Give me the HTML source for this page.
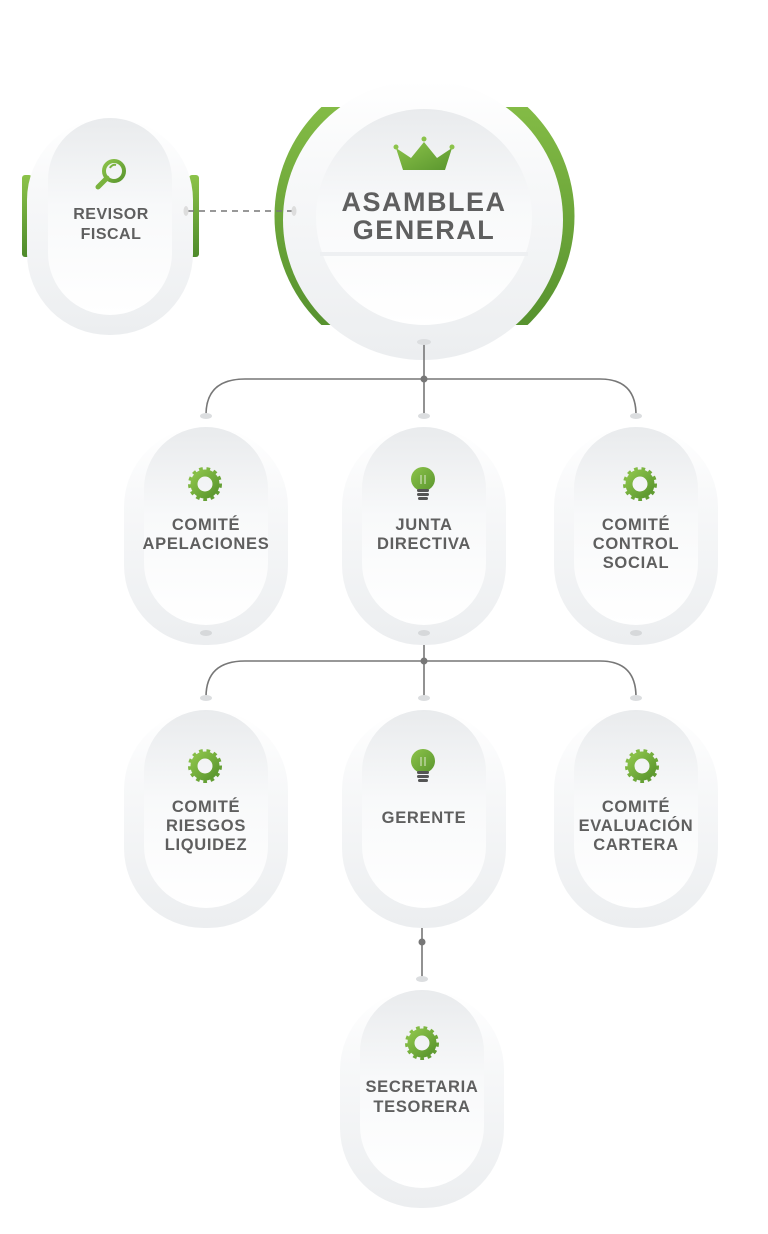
<!DOCTYPE html>
<html><head><meta charset="utf-8"><style>
html,body{margin:0;padding:0;background:#fff;}
svg{display:block}
text{font-family:"Liberation Sans",Arial,sans-serif;font-weight:bold;fill:#5f5f5f;text-anchor:middle;}
</style></head><body>
<svg width="768" height="1234" viewBox="0 0 768 1234" xmlns="http://www.w3.org/2000/svg">
<defs>
<linearGradient id="outer" x1="0" y1="0" x2="0" y2="1">
<stop offset="0" stop-color="#ffffff"/><stop offset="0.35" stop-color="#f7f8f9"/><stop offset="1" stop-color="#eceef0"/></linearGradient>
<linearGradient id="inner" x1="0" y1="0" x2="0" y2="1">
<stop offset="0" stop-color="#e9ebed"/><stop offset="0.45" stop-color="#f8f9fa"/><stop offset="1" stop-color="#ffffff"/></linearGradient>
<linearGradient id="green" x1="0" y1="0" x2="0" y2="1">
<stop offset="0" stop-color="#8cc34a"/><stop offset="1" stop-color="#4e8a2a"/></linearGradient>
<linearGradient id="gicon" x1="0" y1="0" x2="1" y2="1">
<stop offset="0" stop-color="#8cc34a"/><stop offset="1" stop-color="#5a962e"/></linearGradient>
<clipPath id="band"><rect x="0" y="107" width="768" height="218"/></clipPath>
<g id="node">
<rect x="-82" y="0" width="164" height="218" rx="80" fill="url(#outer)"/>
<rect x="-62" y="0" width="124" height="198" rx="62" fill="url(#inner)"/>
</g>
<g id="gear">
<circle r="15" fill="none" stroke="url(#gicon)" stroke-width="4" stroke-dasharray="3.6 3.6"/>
<circle r="11" fill="none" stroke="url(#gicon)" stroke-width="7"/>
</g>
<g id="bulb">
<circle cy="-3" r="12" fill="url(#gicon)"/>
<path d="M-2 -7 v9 M2 -7 v9" stroke="#dfe8d0" stroke-width="1" fill="none"/>
<rect x="-6" y="7" width="12" height="3" rx="1.5" fill="#555"/>
<rect x="-6" y="11" width="12" height="3" rx="1.5" fill="#555"/>
<rect x="-5" y="15" width="10" height="3" rx="1.5" fill="#555"/>
</g>
</defs>

<!-- Revisor fiscal -->
<rect x="22" y="175" width="10" height="82" rx="3" fill="url(#green)"/>
<rect x="189" y="175" width="10" height="82" rx="3" fill="url(#green)"/>
<rect x="27" y="118" width="166" height="217" rx="82" fill="url(#outer)"/>
<rect x="48" y="118" width="124" height="197" rx="62" fill="url(#inner)"/>
<circle cx="114" cy="171" r="10" fill="none" stroke="url(#gicon)" stroke-width="4"/>
<path d="M107 178 L98 187" stroke="#7ab33e" stroke-width="5" stroke-linecap="round"/>
<path d="M110 168 a5 5 0 0 1 6 -3" stroke="#7ab33e" stroke-width="2" fill="none"/>
<text x="111" y="219" font-size="16" letter-spacing="0.5">REVISOR</text>
<text x="111" y="239" font-size="16" letter-spacing="0.5">FISCAL</text>

<!-- Asamblea -->
<circle cx="424.5" cy="216" r="150" fill="url(#green)" clip-path="url(#band)"/>
<circle cx="423" cy="220" r="140" fill="url(#outer)"/>
<circle cx="424" cy="217" r="108" fill="url(#inner)"/>
<rect x="320" y="252" width="208" height="4" fill="#eef0f2"/>

<!-- dashed -->
<line x1="188" y1="211" x2="293" y2="211" stroke="#777" stroke-width="1.6" stroke-dasharray="6 5"/>
<ellipse cx="186" cy="211" rx="2.5" ry="5" fill="#ddd"/>
<ellipse cx="294" cy="211" rx="2.5" ry="5" fill="#ddd"/>

<path d="M396 148 L403 170 L445 170 L452 148 L437 158 L424 142 L411 158 Z" fill="url(#gicon)"/>
<circle cx="396" cy="147" r="2.5" fill="#8cc34a"/><circle cx="452" cy="147" r="2.5" fill="#8cc34a"/><circle cx="424" cy="139" r="2.5" fill="#8cc34a"/>
<text x="424" y="211" font-size="27" letter-spacing="1.5">ASAMBLEA</text>
<text x="424" y="239" font-size="27" letter-spacing="1.5">GENERAL</text>

<!-- connectors -->
<g stroke="#777" stroke-width="1.6" fill="none">
<line x1="424" y1="342" x2="424" y2="415"/>
<path d="M206 415 Q206 379 245 379 L600 379 Q636 379 636 415"/>
<line x1="424" y1="634" x2="424" y2="697"/>
<path d="M206 697 Q206 661 245 661 L600 661 Q636 661 636 697"/>
<line x1="422" y1="915" x2="422" y2="980"/>
</g>
<circle cx="424" cy="379" r="3.5" fill="#777"/>
<circle cx="424" cy="661" r="3.5" fill="#777"/>
<circle cx="422" cy="942" r="3.5" fill="#777"/>
<g fill="#dcdee0">
<ellipse cx="424" cy="342" rx="7" ry="3"/>
<ellipse cx="206" cy="416" rx="6" ry="3"/><ellipse cx="424" cy="416" rx="6" ry="3"/><ellipse cx="636" cy="416" rx="6" ry="3"/>
<ellipse cx="206" cy="698" rx="6" ry="3"/><ellipse cx="424" cy="698" rx="6" ry="3"/><ellipse cx="636" cy="698" rx="6" ry="3"/>
<ellipse cx="422" cy="979" rx="6" ry="3"/><ellipse cx="422" cy="915" rx="7" ry="3"/>
</g>

<!-- row 1 -->
<use href="#node" x="206" y="427"/>
<use href="#node" x="424" y="427"/>
<use href="#node" x="636" y="427"/>
<g fill="#d6d8da"><ellipse cx="206" cy="633" rx="6" ry="3"/><ellipse cx="424" cy="633" rx="6" ry="3"/><ellipse cx="636" cy="633" rx="6" ry="3"/></g>
<use href="#gear" x="205" y="484"/>
<use href="#bulb" x="423" y="482"/>
<use href="#gear" x="640" y="484"/>
<g font-size="16.5" letter-spacing="0.7">
<text x="206" y="530">COMITÉ</text>
<text x="206" y="549">APELACIONES</text>
<text x="424" y="530">JUNTA</text>
<text x="424" y="549">DIRECTIVA</text>
<text x="636" y="530">COMITÉ</text>
<text x="636" y="549">CONTROL</text>
<text x="636" y="568">SOCIAL</text>
</g>

<!-- row 2 -->
<use href="#node" x="206" y="710"/>
<use href="#node" x="424" y="710"/>
<use href="#node" x="636" y="710"/>
<use href="#gear" x="205" y="766"/>
<use href="#bulb" x="423" y="764"/>
<use href="#gear" x="642" y="766"/>
<g font-size="16.5" letter-spacing="0.7">
<text x="206" y="812">COMITÉ</text>
<text x="206" y="831">RIESGOS</text>
<text x="206" y="850">LIQUIDEZ</text>
<text x="424" y="823">GERENTE</text>
<text x="636" y="812">COMITÉ</text>
<text x="636" y="831">EVALUACIÓN</text>
<text x="636" y="850">CARTERA</text>
</g>

<!-- row 3 -->
<use href="#node" x="422" y="990"/>
<use href="#gear" x="422" y="1043"/>
<g font-size="16.5" letter-spacing="0.7">
<text x="422" y="1092">SECRETARIA</text>
<text x="422" y="1112">TESORERA</text>
</g>
</svg>
</body></html>
